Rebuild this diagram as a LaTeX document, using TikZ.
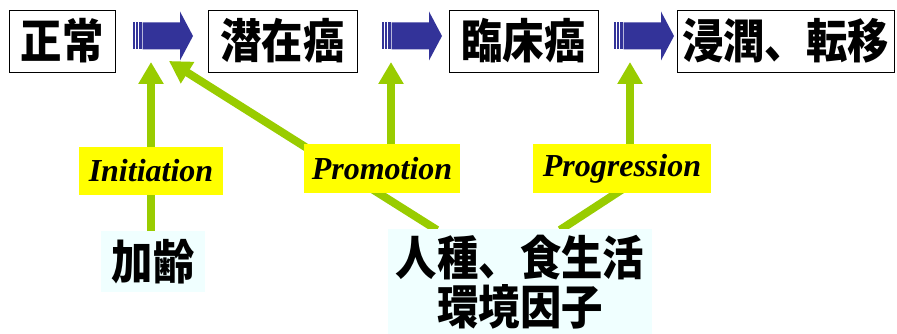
\documentclass[tikz,border=0pt]{standalone}
\usepackage{fontspec}
\usetikzlibrary{arrows.meta,backgrounds}
\newfontfamily\cjkf{Noto Sans CJK JP}[FakeStretch=0.88]
\newfontfamily\labf{Liberation Serif}
\definecolor{arrowblue}{HTML}{333399}
\definecolor{leafgreen}{HTML}{99CC00}
\definecolor{labyellow}{HTML}{FFFF00}
\definecolor{paleaqua}{HTML}{F0FFFF}
\tikzset{
  stagebox/.style={draw=black, line width=0.8pt, fill=white, inner sep=0pt,
    minimum height=62pt, font=\cjkf\bfseries\fontsize{47}{50}\selectfont},
  factorbox/.style={fill=paleaqua, inner sep=0pt, align=center,
    font=\cjkf\bfseries\fontsize{47}{50}\selectfont},
  phaselabel/.style={fill=labyellow, inner sep=0pt, minimum height=48pt,
    font=\labf\bfseries\itshape\fontsize{32}{36}\selectfont},
  greenarrow/.style={draw=leafgreen, line width=8pt,
    -{Triangle[width=24pt,length=22pt]}},
  greenline/.style={draw=leafgreen, line width=8pt},
  fatarrow/.pic={
    \fill[arrowblue] (0,-13.5) rectangle (1.8,13.5);
    \fill[arrowblue] (3.3,-13.5) rectangle (5.0,13.5);
    \fill[arrowblue] (6.2,-13.5) rectangle (8.5,13.5);
    \fill[arrowblue] (9.5,-13.5) -- (47,-13.5) -- (47,-24.5) -- (60,0)
      -- (47,24.5) -- (47,13.5) -- (9.5,13.5) -- cycle;
  }
}
\begin{document}
\begin{tikzpicture}[x=1pt,y=-1pt]
\useasboundingbox (0,0) rectangle (897,334);

% top stage boxes
\node[stagebox, minimum width=106pt] (normal) at (62,41) {正常};
\node[stagebox, minimum width=149pt] (latent) at (282.5,41) {潜在癌};
\node[stagebox, minimum width=149pt] (clinical) at (523.5,41) {臨床癌};
\node[stagebox, minimum width=217pt] (invasive) at (785.5,41) {浸潤、転移};

% blue block arrows
\pic (b1) at (133,36) {fatarrow};
\pic (b2) at (382,36) {fatarrow};
\pic (b3) at (614,36) {fatarrow};

% phase labels
\node[phaselabel, minimum width=144pt] (init) at (151,171) {Initiation};
\node[phaselabel, minimum width=156pt] (prom) at (382,168.5) {Promotion};
\node[phaselabel, minimum width=178pt] (prog) at (622,168.5) {Progression};

% factor boxes
\node[factorbox, minimum width=104pt, minimum height=61pt] (age) at (153,261.5) {加齢};
\node[factorbox, minimum width=264pt, minimum height=106pt] (env) at (520,282)
  {人種、食生活\\[-1pt]環境因子};

% arrow tips and line ends
\coordinate (t1) at (151,62);
\coordinate (t2) at (169,61);
\coordinate (t3) at (391,62);
\coordinate (t4) at (630,62);
\coordinate (e1) at (437,230);
\coordinate (e2) at (560,230);
\coordinate (g4) at (655,168);

\begin{scope}[on background layer]
  \draw[greenarrow] (age.north -| t1) -- (t1);
  \draw[greenarrow] (e1) -- (t2);
  \draw[greenarrow] (t3 |- prom.center) -- (t3);
  \draw[greenarrow] (t4 |- prog.center) -- (t4);
  \draw[greenline] (e2) -- (g4);
\end{scope}
\end{tikzpicture}
\end{document}
